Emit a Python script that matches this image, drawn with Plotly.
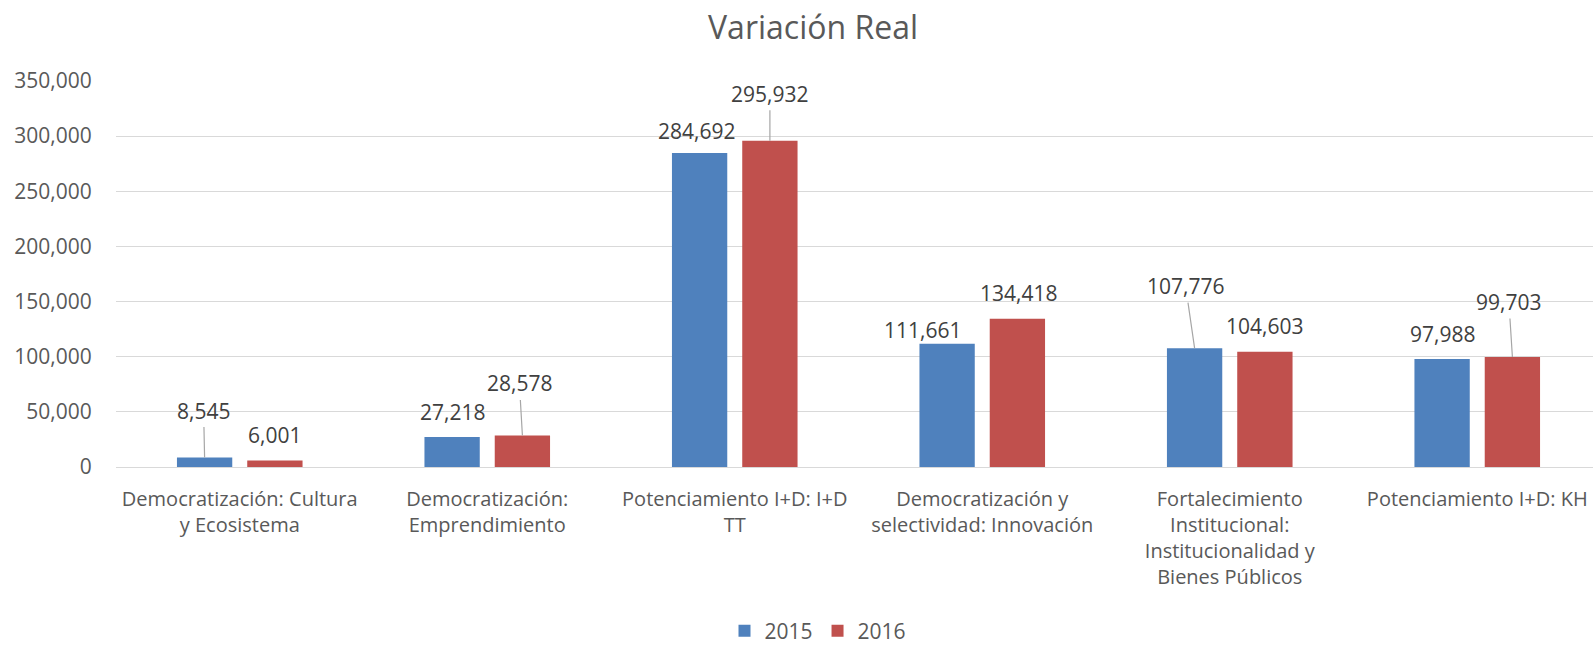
import plotly.graph_objects as go

# ---- data ----
categories = [
    "Democratización: Cultura y Ecosistema",
    "Democratización: Emprendimiento",
    "Potenciamiento I+D: I+D TT",
    "Democratización y selectividad: Innovación",
    "Fortalecimiento Institucional: Institucionalidad y Bienes Públicos",
    "Potenciamiento I+D: KH",
]
tick_labels = [
    "Democratización: Cultura<br>y Ecosistema",
    "Democratización:<br>Emprendimiento",
    "Potenciamiento I+D: I+D<br>TT",
    "Democratización y<br>selectividad: Innovación",
    "Fortalecimiento<br>Institucional:<br>Institucionalidad y<br>Bienes Públicos",
    "Potenciamiento I+D: KH",
]
series_names = ["2015", "2016"]
values_2015 = [8545, 27218, 284692, 111661, 107776, 97988]
values_2016 = [6001, 28578, 295932, 134418, 104603, 99703]
y_tickvals = [0, 50000, 100000, 150000, 200000, 250000, 300000, 350000]

# ---- style ----
colors = ["#4F81BD", "#C0504D"]
FONT = "Open Sans, Calibri, Carlito, sans-serif"
AXIS_COL = "#595959"
LABEL_COL = "#404040"
BAR_OFFSET = 35.15  # px half slot

# label placement: (leader?, dx, dy) in pixels relative to bar top centre (dy up)
label_pos_2015 = [(True, -1, 47), (False, 0, 25), (False, -3, 22.5),
                  (False, -25, 14), (True, -9, 62), (False, 0, 25)]
label_pos_2016 = [(False, 0, 25), (True, -3, 52), (True, 0, 47),
                  (False, 1, 26), (False, 0, 25.6), (True, -3.5, 55)]

fig = go.Figure()
for name, vals, col in zip(series_names, [values_2015, values_2016], colors):
    fig.add_trace(go.Bar(x=categories, y=vals, name=name,
                         marker=dict(color=col, line=dict(width=0))))

annotations = []
for vals, poss, sign in [(values_2015, label_pos_2015, -1), (values_2016, label_pos_2016, 1)]:
    for cat, v, (leader, dx, dy) in zip(categories, vals, poss):
        common = dict(x=cat, y=v, xref="x", yref="y", text=f"{v:,}",
                      font=dict(family=FONT, size=21, color=LABEL_COL))
        if leader:
            annotations.append(dict(**common, xshift=sign * BAR_OFFSET,
                                    showarrow=True, arrowhead=0, arrowwidth=1.2,
                                    arrowcolor="#A6A6A6", ax=dx, ay=-dy,
                                    standoff=0, borderpad=2))
        else:
            annotations.append(dict(**common, showarrow=False,
                                    xshift=sign * BAR_OFFSET + dx, yshift=dy,
                                    yanchor="middle"))

fig.update_layout(
    width=1593, height=647,
    paper_bgcolor="white", plot_bgcolor="white",
    margin=dict(l=116, r=0, t=81, b=180),
    title=dict(text="Variación Real", x=813 / 1593, xanchor="center",
               y=1 - 28 / 647, yanchor="middle",
               font=dict(family=FONT, size=32, color=AXIS_COL)),
    barmode="group", bargap=0.432, bargroupgap=0.213,
    legend=dict(orientation="h", xref="container", x=818 / 1593, xanchor="center",
                yref="container", y=(647 - 631) / 647, yanchor="middle",
                font=dict(family=FONT, size=21, color=AXIS_COL),
                itemwidth=30, traceorder="normal"),
    annotations=annotations,
    font=dict(family=FONT, color=AXIS_COL),
)
fig.update_xaxes(
    tickmode="array", tickvals=categories, ticktext=tick_labels,
    range=[-0.5, 5.5 - 8 / 247.55], automargin=False,
    tickfont=dict(family=FONT, size=20, color=AXIS_COL),
    ticks="outside", ticklen=14, tickcolor="rgba(0,0,0,0)",
    showline=False, showgrid=False,
)
fig.update_yaxes(
    range=[0, 350000], tickvals=y_tickvals, tickformat=",d", automargin=False,
    tickfont=dict(family=FONT, size=21, color=AXIS_COL),
    ticks="outside", ticklen=19, tickcolor="rgba(0,0,0,0)",
    showgrid=True, gridcolor="#D9D9D9", gridwidth=1.3,
    zeroline=True, zerolinecolor="#D9D9D9", zerolinewidth=1.3,
    showline=False,
)

fig.write_html("out.html", config={"displayModeBar": False},
               post_script="document.body.style.margin='0px';document.body.style.overflow='hidden';")
